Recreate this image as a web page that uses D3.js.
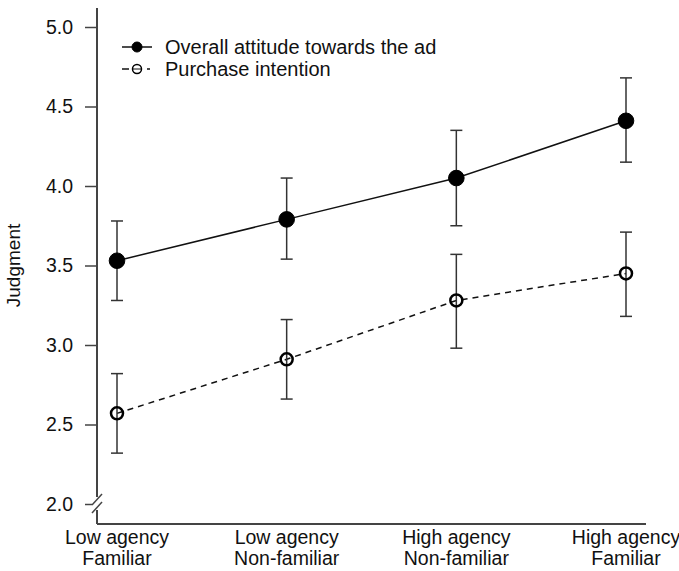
<!DOCTYPE html>
<html>
<head>
<meta charset="utf-8">
<script src="https://cdn.jsdelivr.net/npm/d3@7"></script>
<style>
  body { margin: 0; background: #fff; }
  svg { font-family: "Liberation Sans", Arial, sans-serif; }
</style>
</head>
<body>
<div id="chart"></div>
<script>
// conditions on the x axis, two text lines each
const conditions = ['LF', 'LN', 'HN', 'HF'];
const conditionLines = [
  ['Low agency', 'Familiar'],
  ['Low agency', 'Non-familiar'],
  ['High agency', 'Non-familiar'],
  ['High agency', 'Familiar']
];

// overall attitude towards the ad
const attitudeMean = [3.53, 3.79, 4.05, 4.41];
const attitudeLow = [3.28, 3.54, 3.75, 4.15];
const attitudeHigh = [3.78, 4.05, 4.35, 4.68];

// purchase intention
const purchaseMean = [2.57, 2.91, 3.28, 3.45];
const purchaseLow = [2.32, 2.66, 2.98, 3.18];
const purchaseHigh = [2.82, 3.16, 3.57, 3.71];

const yTicks = [2.0, 2.5, 3.0, 3.5, 4.0, 4.5, 5.0];

const width = 679, height = 571;
const margin = { top: 27, right: 33, bottom: 67, left: 97 };

const svg = d3.select('#chart')
  .append('svg')
  .attr('width', width)
  .attr('height', height);

const x = d3.scalePoint()
  .domain(conditions)
  .range([margin.left + 20, width - margin.right - 20]);

const y = d3.scaleLinear()
  .domain([2, 5])
  .range([height - margin.bottom, margin.top]);

const axisColor = '#444';
const axisBottomY = y(2) + 20;

// y axis with a break near the bottom
const yAxis = svg.append('g')
  .attr('transform', `translate(${margin.left},0)`)
  .call(d3.axisLeft(y).tickValues(yTicks).tickFormat(d3.format('.1f')).tickSize(12).tickSizeOuter(0))
  .call(g => g.select('.domain').remove());

yAxis.selectAll('.tick line').attr('stroke', axisColor).attr('stroke-width', 1.5);
yAxis.selectAll('.tick text')
  .attr('x', -24)
  .attr('font-size', 19.5)
  .attr('fill', '#111')
  .attr('font-family', '"Liberation Sans", Arial, sans-serif');
// shorten the 2.0 tick so it meets the break
yAxis.selectAll('.tick').filter(d => d === 2).select('line').attr('x2', -5).attr('x1', -12);

svg.append('line')
  .attr('x1', margin.left).attr('x2', margin.left)
  .attr('y1', 8).attr('y2', y(2) - 7)
  .attr('stroke', axisColor).attr('stroke-width', 2);
svg.append('line')
  .attr('x1', margin.left).attr('x2', margin.left)
  .attr('y1', y(2) + 6).attr('y2', axisBottomY)
  .attr('stroke', axisColor).attr('stroke-width', 2);
[-4, 4].forEach(dy => {
  svg.append('line')
    .attr('x1', margin.left - 5).attr('y1', y(2) + dy + 5)
    .attr('x2', margin.left + 5).attr('y2', y(2) + dy - 6)
    .attr('stroke', axisColor).attr('stroke-width', 1.5);
});

// x axis
svg.append('line')
  .attr('x1', margin.left).attr('x2', width - margin.right)
  .attr('y1', axisBottomY).attr('y2', axisBottomY)
  .attr('stroke', axisColor).attr('stroke-width', 2);

const xLabels = svg.append('g')
  .selectAll('text')
  .data(conditions)
  .join('text')
  .attr('x', d => x(d))
  .attr('y', axisBottomY + 20)
  .attr('text-anchor', 'middle')
  .attr('font-size', 19.5)
  .attr('fill', '#111');
xLabels.selectAll('tspan')
  .data((d, i) => conditionLines[i])
  .join('tspan')
  .attr('x', function () { return d3.select(this.parentNode).attr('x'); })
  .attr('dy', (d, i) => i === 0 ? 0 : 21)
  .text(d => d);

// y label
svg.append('text')
  .attr('transform', `translate(20,${(y(2) + y(5)) / 2}) rotate(-90)`)
  .attr('text-anchor', 'middle')
  .attr('font-size', 19)
  .attr('fill', '#111')
  .text('Judgment');

function drawSeries(mean, low, high, dashed, filled) {
  const g = svg.append('g');
  const pts = conditions.map((c, i) => ({ c, m: mean[i], lo: low[i], hi: high[i] }));

  g.append('path')
    .datum(pts)
    .attr('fill', 'none')
    .attr('stroke', '#111')
    .attr('stroke-width', 1.5)
    .attr('stroke-dasharray', dashed ? '6,5' : null)
    .attr('d', d3.line().x(d => x(d.c)).y(d => y(d.m)));

  const eb = g.selectAll('.eb').data(pts).join('g').attr('class', 'eb');
  eb.append('line')
    .attr('x1', d => x(d.c)).attr('x2', d => x(d.c))
    .attr('y1', d => y(d.lo)).attr('y2', d => y(d.hi))
    .attr('stroke', '#333').attr('stroke-width', 1.5);
  ['lo', 'hi'].forEach(k => {
    eb.append('line')
      .attr('x1', d => x(d.c) - 6).attr('x2', d => x(d.c) + 6)
      .attr('y1', d => y(d[k])).attr('y2', d => y(d[k]))
      .attr('stroke', '#333').attr('stroke-width', 1.5);
  });

  g.selectAll('circle').data(pts).join('circle')
    .attr('cx', d => x(d.c))
    .attr('cy', d => y(d.m))
    .attr('r', filled ? 7.8 : 6)
    .attr('fill', filled ? '#000' : 'none')
    .attr('stroke', '#000')
    .attr('stroke-width', filled ? 1 : 2.5);
}

drawSeries(attitudeMean, attitudeLow, attitudeHigh, false, true);
drawSeries(purchaseMean, purchaseLow, purchaseHigh, true, false);

// legend
const legend = svg.append('g').attr('transform', 'translate(122,47)');
const legendItems = [
  { label: 'Overall attitude towards the ad', dashed: false, filled: true },
  { label: 'Purchase intention', dashed: true, filled: false }
];
legendItems.forEach((it, i) => {
  const row = legend.append('g').attr('transform', `translate(0,${i * 22})`);
  row.append('line')
    .attr('x1', 0).attr('x2', it.dashed ? 7 : 30)
    .attr('stroke', '#111').attr('stroke-width', 1.5);
  if (it.dashed) {
    row.append('line').attr('x1', 25).attr('x2', 28).attr('stroke', '#111').attr('stroke-width', 1.5);
    row.append('line').attr('x1', 11).attr('x2', 19).attr('stroke', '#111').attr('stroke-width', 1);
  }
  row.append('circle')
    .attr('cx', 15)
    .attr('r', it.filled ? 5 : 4.5)
    .attr('fill', it.filled ? '#000' : 'none')
    .attr('stroke', '#000')
    .attr('stroke-width', it.filled ? 1 : 1.5);
  row.append('text')
    .attr('x', 43)
    .attr('dy', '0.35em')
    .attr('font-size', 20)
    .attr('fill', '#111')
    .text(it.label);
});
</script>
</body>
</html>
